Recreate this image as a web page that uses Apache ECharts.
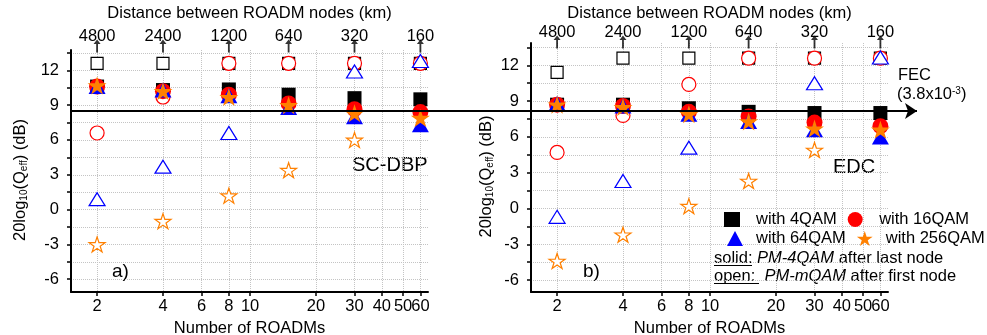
<!DOCTYPE html>
<html><head><meta charset="utf-8">
<script src="https://cdn.jsdelivr.net/npm/echarts@6/dist/echarts.min.js"></script>
<style>html,body{margin:0;padding:0;background:#fff}#c{width:987px;height:335px}</style>
</head><body><div id="c"></div>
<script>
// ---- data ----
const roadms = [2, 4, 8, 15, 30, 60];
const distances = [4800, 2400, 1200, 640, 320, 160];
const xTickValues = [2, 4, 6, 8, 10, 20, 30, 40, 50, 60];
const xLabelMain = [2, 4, 6, 8, 10, 20, 30, 40, 60];
const xLabelExtra = [50];
const yTickLabels = [-6, -3, 0, 3, 6, 9, 12];
const yTickMarks = [-6, -4.5, -3, -1.5, 0, 1.5, 3, 4.5, 6, 7.5, 9, 10.5, 12, 13.5];
const fecLevel = 8.5;
const legendNames = ['with 4QAM', 'with 16QAM', 'with 64QAM', 'with 256QAM'];

// a) SC-DBP
const dbpSolid4 = [10.6, 10.3, 10.35, 9.9, 9.6, 9.5];
const dbpSolid16 = [10.6, 10.2, 9.9, 9.15, 8.65, 8.4];
const dbpSolid64 = [10.6, 10.3, 9.8, 8.8, 8.0, 7.3];
const dbpSolid256 = [10.7, 10.2, 9.7, 9.0, 8.3, 7.9];
const dbpOpen4 = [12.6, 12.6, 12.6, 12.6, 12.6, 12.6];
const dbpOpen16 = [6.6, 9.7, 12.6, 12.6, 12.6, 12.6];
const dbpOpen64 = [0.9, 3.7, 6.6, null, 11.9, 12.8];
const dbpOpen256 = [-3.0, -1.0, 1.2, 3.4, 6.0, null];
// b) EDC
const edcSolid4 = [8.7, 8.7, 8.4, 8.1, 8.0, 8.0];
const edcSolid16 = [8.7, 8.6, 8.1, 7.7, 7.2, 6.9];
const edcSolid64 = [8.8, 8.6, 7.9, 7.3, 6.6, 6.0];
const edcSolid256 = [8.7, 8.5, 7.9, 7.3, 6.7, 6.6];
const edcOpen4 = [11.4, 12.6, 12.6, 12.6, 12.6, 12.6];
const edcOpen16 = [4.7, 7.8, 10.4, 12.6, 12.6, 12.6];
const edcOpen64 = [-0.7, 2.3, 5.1, null, 10.5, 12.65];
const edcOpen256 = [-4.4, -2.2, 0.2, 2.3, 4.9, null];

// ---- styling ----
const FONT = '"Liberation Sans", Arial, Helvetica, sans-serif';
const FS = 16.5;
const XMIN = Math.log10(1.52), XMAX = Math.log10(65);
const YR = [{min: -7.1, max: 13.75}, {min: -7.0, max: 13.87}];
const STAR = 'path://M50,0 L61.23,34.55 L97.55,34.55 L68.16,55.9 L79.39,90.45 L50,69.1 L20.61,90.45 L31.84,55.9 L2.45,34.55 L38.77,34.55 Z';
const ARROW = 'path://M5,0 L10,7 L6.3,7 L6.3,20 L3.7,20 L3.7,7 L0,7 Z';
const C = {k: '#000000', r: '#ff0000', b: '#0000ff', o: '#ff8000'};

const pts = arr => roadms.map((n, i) => arr[i] == null ? null : [Math.log10(n), arr[i]]).filter(Boolean);
const txt = {color: '#000', fontSize: FS, fontFamily: FONT};
const fmtN = v => String(Math.round(Math.pow(10, v)));

function xBottom(g) {
  return {type: 'value', gridIndex: g, position: 'bottom', min: XMIN, max: XMAX,
    axisLine: {show: true, onZero: false, lineStyle: {color: '#000', width: 2}},
    axisTick: {show: true, customValues: xTickValues.map(Math.log10), length: 4, lineStyle: {color: '#000', width: 1.5}},
    axisLabel: Object.assign({customValues: xLabelMain.map(Math.log10), margin: 6, showMinLabel: true, showMaxLabel: true, hideOverlap: false,
      formatter: fmtN}, txt),
    splitLine: {show: true, lineStyle: {color: '#c4c4c4', type: 'dotted', width: 1}},
    name: 'Number of ROADMs', nameLocation: 'middle', nameGap: 22, nameTextStyle: txt};
}
function xExtra(g) {
  return {type: 'value', gridIndex: g, position: 'bottom', min: XMIN, max: XMAX,
    axisLine: {show: false, onZero: false}, axisTick: {show: false}, splitLine: {show: false},
    axisLabel: Object.assign({customValues: xLabelExtra.map(Math.log10), margin: 6, showMinLabel: true, showMaxLabel: true, formatter: fmtN}, txt)};
}
function xTop(g, margin) {
  return {type: 'value', gridIndex: g, position: 'top', min: XMIN, max: XMAX,
    axisLine: {show: false}, axisTick: {show: false}, splitLine: {show: false},
    axisLabel: Object.assign({customValues: roadms.map(Math.log10), margin: margin, showMinLabel: true, showMaxLabel: true,
      formatter: v => { let bi = 0, bd = 1e9; roadms.forEach((n, i) => { const d = Math.abs(Math.log10(n) - v); if (d < bd) { bd = d; bi = i; } }); return String(distances[bi]); }}, txt)};
}
function xTopTitle(g, gap) {
  return {type: 'value', gridIndex: g, position: 'top', min: XMIN, max: XMAX,
    axisLine: {show: false, onZero: false}, axisTick: {show: false}, splitLine: {show: false}, axisLabel: {show: false},
    name: 'Distance between ROADM nodes (km)', nameLocation: 'middle', nameGap: gap, nameTextStyle: txt};
}
function yAx(g, gap) {
  return {type: 'value', gridIndex: g, min: YR[g].min, max: YR[g].max,
    axisLine: {show: true, onZero: false, lineStyle: {color: '#000', width: 2}},
    axisTick: {show: true, customValues: yTickMarks, length: 4, lineStyle: {color: '#000', width: 1.5}},
    axisLabel: Object.assign({customValues: yTickLabels, margin: 12}, txt),
    splitLine: {show: true, lineStyle: {color: '#c4c4c4', type: 'dotted', width: 1}},
    name: '20log{s|10}(Q{s|eff}) (dB)', nameLocation: 'middle', nameRotate: 90, nameGap: gap,
    nameTextStyle: Object.assign({padding: [0, 18, 0, 0], rich: {s: {fontSize: 10, fontFamily: FONT, color: '#000', verticalAlign: 'bottom', lineHeight: 12}}}, txt)};
}

function sc(name, g, arr, symbol, size, color, open) {
  return {type: 'scatter', name: name, xAxisIndex: g * 2, yAxisIndex: g, data: pts(arr), clip: false,
    symbol: symbol, symbolSize: size, silent: true,
    itemStyle: open ? {color: '#ffffff', borderColor: color, borderWidth: 1.2, opacity: 1} : {color: color, opacity: 1}};
}
function panel(g, o4, o16, o64, o256, s4, s16, s64, s256, arrowOff) {
  const open = [
    sc('open4_' + g, g, o4, 'rect', 12, C.k, true),
    sc('open16_' + g, g, o16, 'circle', 14, C.r, true),
    sc('open64_' + g, g, o64, 'triangle', [16, 13], C.b, true),
    sc('open256_' + g, g, o256, STAR, [16, 15], C.o, true)];
  const solid = [
    sc(legendNames[0], g, s4, 'rect', 14, C.k, false),
    sc(legendNames[1], g, s16, 'circle', 16, C.r, false),
    sc(legendNames[2], g, s64, 'triangle', [17, 15], C.b, false),
    sc(legendNames[3], g, s256, STAR, [19, 18], C.o, false)];
  const arrows = {type: 'scatter', name: 'arrows_' + g, xAxisIndex: g * 2, yAxisIndex: g, clip: false, silent: true,
    data: roadms.map(n => [Math.log10(n), YR[g].max]), symbol: ARROW, symbolSize: [7, 13], symbolOffset: [0, arrowOff],
    itemStyle: {color: '#000'}};
  return open.concat(solid, [arrows]);
}

const series = [].concat(
  panel(0, dbpOpen4, dbpOpen16, dbpOpen64, dbpOpen256, dbpSolid4, dbpSolid16, dbpSolid64, dbpSolid256, -4),
  panel(1, edcOpen4, edcOpen16, edcOpen64, edcOpen256, edcSolid4, edcSolid16, edcSolid64, edcSolid256, -1),
  [{type: 'line', name: 'FEC', xAxisIndex: 4, yAxisIndex: 2, data: [], silent: true,
    markLine: {silent: true, symbol: ['none', 'arrow'], symbolSize: 12, label: {show: false},
      lineStyle: {color: '#000', width: 2, type: 'solid'},
      data: [[{coord: [0, fecLevel]}, {coord: [1, fecLevel]}]]}}]
);

function legendRow(names, left, top, pad) {
  return {data: names, left: left, top: top, width: 300, orient: 'horizontal', itemGap: 11, padding: 0,
    itemWidth: 16, itemHeight: 15, selectedMode: false,
    textStyle: Object.assign({padding: [0, 0, 0, pad]}, txt)};
}

const gridBase = {outerBoundsMode: 'none', containLabel: false};
const hiddenY = g => ({type: 'value', gridIndex: g, min: 0, max: 1, show: false});
const option = {
  animation: false,
  backgroundColor: '#ffffff',
  textStyle: {fontFamily: FONT},
  grid: [
    Object.assign({left: 71, top: 50, width: 357, height: 242}, gridBase),
    Object.assign({left: 531, top: 43, width: 357, height: 249}, gridBase),
    Object.assign({left: 71, top: 50, width: 846, height: 242}, gridBase),
    Object.assign({left: 71, top: 50, width: 357, height: 242}, gridBase),
    Object.assign({left: 531, top: 43, width: 357, height: 249}, gridBase)
  ],
  xAxis: [xBottom(0), xTop(0, 5), xBottom(1), xTop(1, 2),
    {type: 'value', gridIndex: 2, min: 0, max: 1, show: false},
    xExtra(3), xExtra(4), xTopTitle(3, 28), xTopTitle(4, 21)],
  yAxis: [yAx(0, 42), yAx(1, 36), {type: 'value', gridIndex: 2, min: YR[0].min, max: YR[0].max, show: false},
    hiddenY(3), hiddenY(4)],
  legend: [legendRow(legendNames.slice(0, 2), 724, 211, 11), legendRow(legendNames.slice(2, 4), 727, 230, 8)],
  graphic: [
    {type: 'text', left: 352, top: 155, style: {text: 'SC-DBP', font: '20px ' + FONT, fill: '#000'}},
    {type: 'text', left: 833, top: 157, style: {text: 'EDC', font: '20px ' + FONT, fill: '#000'}},
    {type: 'text', left: 112, top: 262, style: {text: 'a)', font: '19px ' + FONT, fill: '#000'}},
    {type: 'text', left: 583, top: 262, style: {text: 'b)', font: '19px ' + FONT, fill: '#000'}},
    {type: 'text', left: 898, top: 67, style: {text: 'FEC', font: FS + 'px ' + FONT, fill: '#000'}},
    {type: 'text', left: 897, top: 86, style: {text: '(3.8x10{sup|-3})', font: FS + 'px ' + FONT, fill: '#000',
      rich: {sup: {fontSize: 10, fontFamily: FONT, fill: '#000', verticalAlign: 'top', lineHeight: 10}}}},
    {type: 'text', left: 714, top: 250, style: {text: 'solid: {i|PM-4QAM} after last node', font: FS + 'px ' + FONT, fill: '#000',
      rich: {i: {fontStyle: 'italic', fontSize: FS, fontFamily: FONT, fill: '#000'}}}},
    {type: 'text', left: 714, top: 268, style: {text: 'open:  {i|PM-mQAM} after first node', font: FS + 'px ' + FONT, fill: '#000',
      rich: {i: {fontStyle: 'italic', fontSize: FS, fontFamily: FONT, fill: '#000'}}}},
    {type: 'line', shape: {x1: 714, y1: 265.5, x2: 752, y2: 265.5}, style: {stroke: '#000', lineWidth: 1}},
    {type: 'line', shape: {x1: 714, y1: 283.5, x2: 759, y2: 283.5}, style: {stroke: '#000', lineWidth: 1}}
  ],
  series: series
};
const chart = echarts.init(document.getElementById('c'), null, {renderer: 'canvas'});
chart.setOption(option);
</script>
</body></html>
